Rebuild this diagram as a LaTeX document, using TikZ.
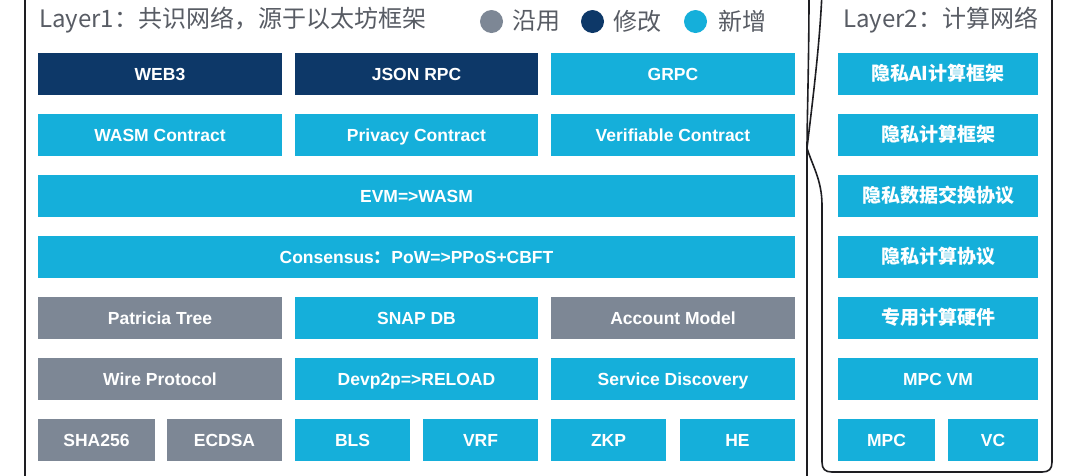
\documentclass[tikz,border=0pt]{standalone}
\usepackage{fontspec}
\setmainfont{Liberation Sans}
\newfontfamily\cjk{Noto Sans CJK SC}
\definecolor{navyc}{RGB}{13,56,104}
\definecolor{cyanc}{RGB}{21,175,218}
\definecolor{grayc}{RGB}{125,135,149}
\definecolor{titlec}{RGB}{88,92,100}
\definecolor{linec}{RGB}{30,30,34}
\begin{document}
\begin{tikzpicture}[x=1pt,y=-1pt,
  box/.style={rectangle, minimum height=42pt, inner sep=0pt, text=white,
    text height=12.6pt, text depth=0pt,
    font=\bfseries\fontsize{17.5}{20}\selectfont},
  cbox/.style={box, text height=14.5pt, text depth=1.5pt, font=\cjk\bfseries\fontsize{19}{22}\selectfont},
  newb/.style={fill=cyanc},
  modb/.style={fill=navyc},
  oldb/.style={fill=grayc},
  ttl/.style={anchor=base west, inner sep=0pt, text=titlec, font=\cjk\fontsize{24}{28}\selectfont},
  dot/.style={circle, inner sep=0pt, minimum size=23pt},
  border/.style={draw=linec, line width=1.6pt, line join=round}
]
\fill[white] (0,0) rectangle (1080,475);
\useasboundingbox (0,0) rectangle (1080,475);

% panel borders
\draw[border] (25,-5) -- (25,480);
\draw[border] (809,-5) .. controls (809,60) and (807,120) .. (807,150) -- (807,480);
\draw[border] (822,-8) .. controls (820,40) and (814,90) .. (807,148)
  .. controls (812,165) and (822,180) .. (822,205) -- (822,462)
  .. controls (822,469) and (825,472) .. (832,472) -- (1042,472)
  .. controls (1049,472) and (1052,469) .. (1052,462) -- (1052,-8);

% titles and legend
\node[ttl] (t1) at (39,27) {Layer1：共识网络，源于以太坊框架};
\node[dot, fill=grayc] (d1) at (491.5,21.5) {};
\node[ttl, anchor=west] (l1) at (512,21) {沿用};
\node[dot, fill=navyc] (d2) at (592.5,21.5) {};
\node[ttl, anchor=west] (l2) at (613,21) {修改};
\node[dot, fill=cyanc] (d3) at (695.5,21.5) {};
\node[ttl, anchor=west] (l3) at (718,21) {新增};
\node[ttl] (t2) at (843,27) {Layer2：计算网络};

% row 1
\node[box, modb, minimum width=244pt] (web3) at (160,74) {WEB3};
\node[box, modb, minimum width=243pt] (json) at (416.5,74) {JSON RPC};
\node[box, newb, minimum width=244pt] (grpc) at (673,74) {GRPC};
% row 2
\node[box, newb, minimum width=244pt] (wasmc) at (160,135) {WASM Contract};
\node[box, newb, minimum width=243pt] (privc) at (416.5,135) {Privacy Contract};
\node[box, newb, minimum width=244pt] (verc) at (673,135) {Verifiable Contract};
% row 3
\node[box, newb, minimum width=757pt] (evm) at (416.5,196) {EVM=>WASM};
% row 4
\node[box, newb, minimum width=757pt] (cons) at (416.5,257) {Consensus{\cjk\bfseries ：}PoW=>PPoS+CBFT};
% row 5
\node[box, oldb, minimum width=244pt] (pat) at (160,318) {Patricia Tree};
\node[box, newb, minimum width=243pt] (snap) at (416.5,318) {SNAP DB};
\node[box, oldb, minimum width=244pt] (acc) at (673,318) {Account Model};
% row 6
\node[box, oldb, minimum width=244pt] (wire) at (160,379) {Wire Protocol};
\node[box, newb, minimum width=243pt] (devp) at (416.5,379) {Devp2p=>RELOAD};
\node[box, newb, minimum width=244pt] (serv) at (673,379) {Service Discovery};
% row 7
\node[box, oldb, minimum width=117pt] (sha) at (96.5,440) {SHA256};
\node[box, oldb, minimum width=115pt] (ecdsa) at (224.5,440) {ECDSA};
\node[box, newb, minimum width=115pt] (bls) at (352.5,440) {BLS};
\node[box, newb, minimum width=115pt] (vrf) at (480.5,440) {VRF};
\node[box, newb, minimum width=115pt] (zkp) at (608.5,440) {ZKP};
\node[box, newb, minimum width=115pt] (he) at (737.5,440) {HE};

% layer 2
\node[cbox, newb, minimum width=200pt] (r1) at (938,74) {隐私AI计算框架};
\node[cbox, newb, minimum width=200pt] (r2) at (938,135) {隐私计算框架};
\node[cbox, newb, minimum width=200pt] (r3) at (938,196) {隐私数据交换协议};
\node[cbox, newb, minimum width=200pt] (r4) at (938,257) {隐私计算协议};
\node[cbox, newb, minimum width=200pt] (r5) at (938,318) {专用计算硬件};
\node[box, newb, minimum width=200pt] (r6) at (938,379) {MPC VM};
\node[box, newb, minimum width=97pt] (mpc) at (886.5,440) {MPC};
\node[box, newb, minimum width=90pt] (vc) at (993,440) {VC};
\end{tikzpicture}
\end{document}
